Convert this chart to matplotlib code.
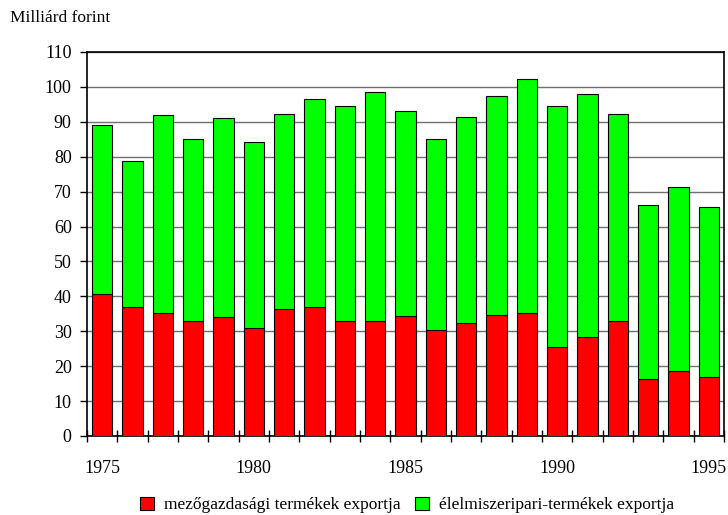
import matplotlib
matplotlib.use("Agg")
import matplotlib.pyplot as plt
import numpy as np

years = list(range(1975, 1996))
agri = [40.6, 36.9, 35.2, 33.0, 34.1, 31.0, 36.4, 36.9, 32.9, 32.9, 34.3,
        30.5, 32.4, 34.7, 35.3, 25.5, 28.4, 32.9, 16.3, 18.7, 16.9]
total = [89.0, 78.9, 92.0, 85.2, 91.1, 84.3, 92.2, 96.5, 94.5, 98.6, 93.0,
         85.1, 91.3, 97.4, 102.4, 94.6, 98.1, 92.2, 66.1, 71.3, 65.6]
food = [round(t - a, 1) for t, a in zip(total, agri)]
yticks = list(range(0, 111, 10))
xlabels = ["1975", "1980", "1985", "1990", "1995"]
series_names = ["mezőgazdasági termékek exportja", "élelmiszeripari-termékek exportja"]

plt.rcParams['font.family'] = ['Liberation Serif', 'DejaVu Serif']

fig = plt.figure(figsize=(7.28, 5.15), dpi=100)
ax = fig.add_axes([87/728, 1 - 436/515, (724 - 87)/728, (436 - 52)/515])

x = np.arange(len(years))
ax.bar(x, agri, width=0.66, color='#ff0000', edgecolor='black', linewidth=0.8,
       label=series_names[0], zorder=3)
ax.bar(x, food, bottom=agri, width=0.66, color='#00ff00', edgecolor='black',
       linewidth=0.8, label=series_names[1], zorder=3)

ax.set_xlim(-0.5, len(years) - 0.5)
ax.set_ylim(0, 110)
ax.set_yticks(yticks)
ax.set_yticklabels([str(v) for v in yticks], fontsize=13)
ax.yaxis.grid(True, color='#707070', linewidth=1.0, zorder=0)
ax.set_axisbelow(True)

# x ticks at category boundaries, labels at every 5th year
ax.set_xticks(np.arange(len(years) + 1) - 0.5)
ax.set_xticklabels([])
ax.tick_params(axis='x', which='major', direction='inout', length=8, width=1, color='black')
lab_pos = [years.index(int(s)) for s in xlabels]
ax.set_xticks(lab_pos, minor=True)
ax.set_xticklabels(xlabels, minor=True, fontsize=13)
ax.tick_params(axis='x', which='minor', length=0, pad=17)
ax.tick_params(axis='y', direction='out', length=5, width=1, pad=6)

for s in ax.spines.values():
    s.set_color('black')
    s.set_linewidth(1.2)

fig.text(10/728, 1 - 18/515, "Milliárd forint", fontsize=12.5, va='center', ha='left')

handles, labels = ax.get_legend_handles_labels()
fig.legend(handles, labels, loc='center', bbox_to_anchor=(407/728, 1 - 505/515), ncol=2,
           frameon=False, fontsize=12.5, handlelength=0.8, handleheight=0.8,
           handletextpad=0.6, columnspacing=0.8)

fig.savefig("out.png", dpi=100)
